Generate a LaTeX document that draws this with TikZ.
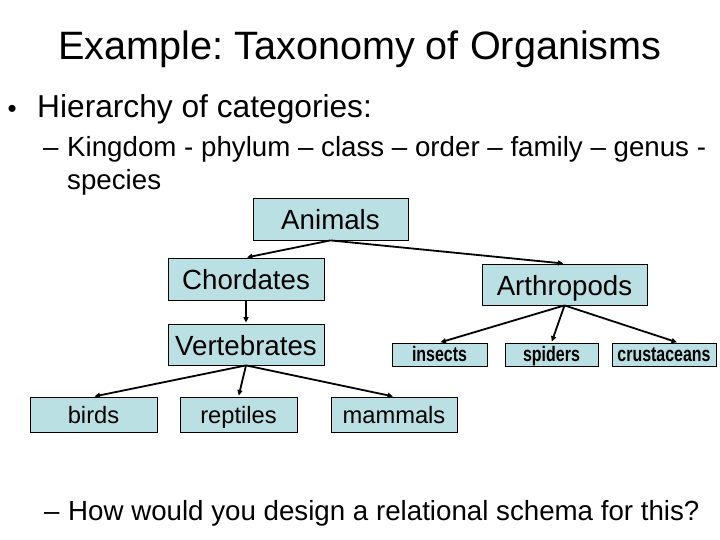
\documentclass[tikz,border=0pt]{standalone}
\usepackage{fontspec}
\setmainfont{Liberation Sans}
\usetikzlibrary{arrows.meta,positioning}
\definecolor{boxc}{HTML}{BBE0E3}
\tikzset{
  ar/.style={-{Triangle[length=5.5pt,width=5pt]},line width=1.8pt,black,shorten >=1pt},
  tx/.style={anchor=base west,inner sep=0pt},
  bx/.style={draw=black,line width=0.8pt,fill=boxc,inner sep=0pt,minimum height=42pt,
    text height=26.6pt,text depth=5.5pt,font=\fontsize{27.7}{30}\selectfont},
  lf/.style={bx,minimum height=35pt,text height=22.7pt,text depth=5.1pt,font=\fontsize{23.7}{26}\selectfont},
  sm/.style={bx,minimum height=23pt,text height=18.5pt,text depth=4.3pt,font=\bfseries\fontsize{21}{23}\selectfont}
}
\newcommand{\narrow}[1]{\scalebox{0.76}[1]{#1}}

\begin{document}
\frenchspacing
\begin{tikzpicture}[x=1pt,y=-1pt]
\useasboundingbox (0,0) rectangle (720,540);
% slide text
\node[anchor=base,inner sep=0pt,font=\fontsize{39.6}{44}\selectfont] (title) at (360,60) {Example: Taxonomy of Organisms};
\node[tx,font=\fontsize{26}{28}\selectfont] (b1) at (7.5,117.5) {•};
\node[tx,font=\fontsize{31.7}{36}\selectfont] (l1) at (37,118) {Hierarchy of categories:};
\node[tx,font=\fontsize{27.7}{32}\selectfont] (b2) at (43,157) {–};
\node[tx,font=\fontsize{27.7}{32}\selectfont] (l2) at (67,157) {Kingdom - phylum – class – order – family – genus -};
\node[tx,font=\fontsize{27.7}{32}\selectfont] (l2b) at (67,190) {species};
\node[tx,font=\fontsize{27.7}{32}\selectfont] (b3) at (44,520) {–};
\node[tx,font=\fontsize{27.7}{32}\selectfont] (l3) at (68,520) {How would you design a relational schema for this?};
% tree
\node[bx,minimum width=155pt] (anim) at (330.5,219) {Animals};
\node[bx,minimum width=156pt] (chord) at (246,279) {Chordates};
\node[bx,minimum width=156pt,minimum height=41pt] (vert) at (246,344.5) {Vertebrates};
\node[bx,minimum width=165pt,minimum height=41pt] (arth) at (564.5,284.5) {Arthropods};
\node[sm,minimum width=95pt] (ins) at (439.5,354.5) {\narrow{insects}};
\node[sm,minimum width=93pt] (spid) at (551.5,354.5) {\narrow{spiders}};
\node[sm,minimum width=104pt] (crus) at (664,354.5) {\narrow{crustaceans}};
\node[lf,minimum width=127pt] (bird) at (93.5,414.5) {birds};
\node[lf,minimum width=117pt] (rept) at (238.5,414.5) {reptiles};
\node[lf,minimum width=126pt] (mamm) at (394,414.5) {mammals};
\draw[ar] (anim.south) -- (chord.north);
\draw[ar] (anim.south) -- (arth.north);
\draw[ar] (chord.south) -- (vert.north);
\foreach \c in {bird,rept,mamm} \draw[ar] (vert.south) -- (\c.north);
\foreach \c in {ins,spid} \draw[ar] (arth.south) -- (\c.north);
\draw[ar] (arth.south) -- ([xshift=14pt]crus.north);
\end{tikzpicture}
\end{document}
